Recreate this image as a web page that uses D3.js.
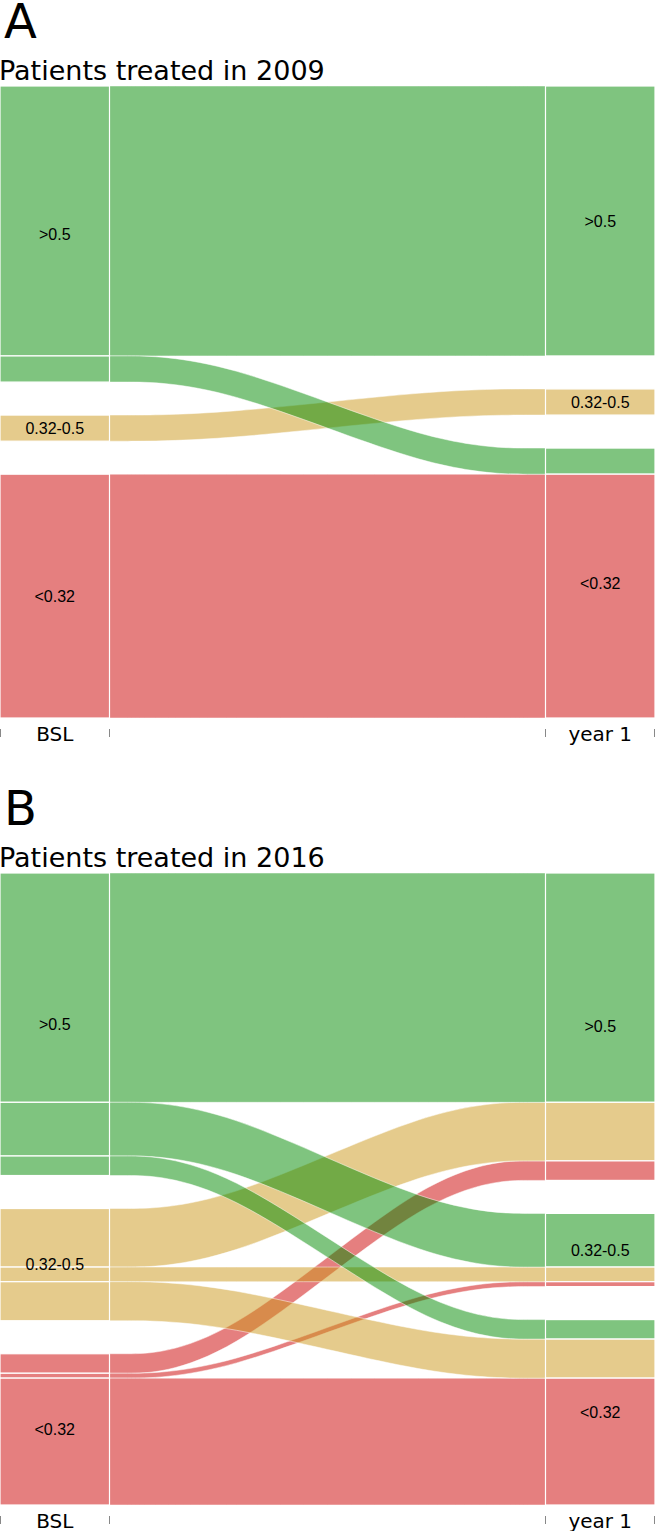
<!DOCTYPE html>
<html>
<head>
<meta charset="utf-8">
<script src="https://cdn.jsdelivr.net/npm/d3@7"></script>
<style>
  body { margin: 0; background: #fff; }
  text { fill: #000; }
</style>
</head>
<body>
<svg id="chart" width="655" height="1531"></svg>
<script>
const categories = [">0.5", "0.32-0.5", "<0.32"];
const axes = ["BSL", "year 1"];
// patient counts: row = category at BSL, column = category at year 1
const flows2009 = [[31, 0, 3], [0, 3, 0], [0, 0, 28]];
const flows2016 = [[47, 11, 4], [12, 3, 8], [4, 1, 26]];

const panels = [
    { letter: "A", title: "Patients treated in 2009", flows: flows2009, top: 86 },
    { letter: "B", title: "Patients treated in 2016", flows: flows2016, top: 873 }
];

const colors = d3.scaleOrdinal()
    .domain(categories)
    .range(["#008a00", "#cc9819", "#cc0000"]);

const WIDTH = 655;
const HEIGHT = 632;
const GAP = 33;
const STRATUM_W = 109.5;

const svg = d3.select("#chart");

function alluvialRenderer(parent, { flows, top }) {
    const group = parent.append("g")
        .attr("transform", `translate(0,${ top })`);

    const total = d3.sum(flows.flat());
    const y = d3.scaleLinear()
        .domain([0, total])
        .range([0, HEIGHT - GAP * (categories.length - 1)]);
    const x = d3.scalePoint()
        .domain(axes)
        .range([STRATUM_W / 2, WIDTH - STRATUM_W / 2]);

    const outTotals = flows.map(row => d3.sum(row));
    const inTotals = categories.map((c, j) => d3.sum(flows, row => row[j]));

    const stratumStart = (totals, k) => y(d3.sum(totals.slice(0, k))) + GAP * k;

    // lodes: one per non-empty (from, to) pair
    const lodes = [];
    categories.forEach((from, i) => {
        categories.forEach((to, j) => {
            const n = flows[i][j];
            if (!n) return;
            const y0 = stratumStart(outTotals, i) + y(d3.sum(flows[i].slice(0, j)));
            const y1 = stratumStart(inTotals, j) + y(d3.sum(flows.slice(0, i), row => row[j]));
            lodes.push({ i, j, n, y0, y1, h: y(n) });
        });
    });

    const half = STRATUM_W / 2;
    const xa = x(axes[0]) + half;
    const xb = x(axes[1]) - half;
    const knot = (xb - xa) / 4;

    const area = d3.area()
        .x(d => d.x)
        .y0(d => d.t)
        .y1(d => d.b)
        .curve(d3.curveBasis);

    // flows drawn last category first so greens sit on top
    group.append("g")
        .attr("class", "flows")
        .selectAll("path")
        .data(lodes.slice().sort((a, b) => b.i - a.i))
        .join("path")
        .attr("d", d => area([
            { x: xa, t: d.y0, b: d.y0 + d.h },
            { x: xa + knot, t: d.y0, b: d.y0 + d.h },
            { x: xb - knot, t: d.y1, b: d.y1 + d.h },
            { x: xb, t: d.y1, b: d.y1 + d.h }
        ]))
        .attr("fill", d => colors(categories[d.i]))
        .attr("fill-opacity", 0.5)
        .attr("stroke", "#fff")
        .attr("stroke-opacity", 0.7)
        .attr("stroke-width", 0.7);

    // lode boxes on both axes
    const boxes = group.append("g").attr("class", "lodes");
    boxes.selectAll("rect.bsl")
        .data(lodes)
        .join("rect")
        .attr("class", "bsl")
        .attr("x", x(axes[0]) - half)
        .attr("y", d => d.y0)
        .attr("width", STRATUM_W)
        .attr("height", d => d.h)
        .attr("fill", d => colors(categories[d.i]))
        .attr("fill-opacity", 0.5)
        .attr("stroke", "#fff")
        .attr("stroke-width", 1.2);
    boxes.selectAll("rect.y1")
        .data(lodes)
        .join("rect")
        .attr("class", "y1")
        .attr("x", x(axes[1]) - half)
        .attr("y", d => d.y1)
        .attr("width", STRATUM_W)
        .attr("height", d => d.h)
        .attr("fill", d => colors(categories[d.i]))
        .attr("fill-opacity", 0.5)
        .attr("stroke", "#fff")
        .attr("stroke-width", 1.2);

    // stratum labels
    const labels = group.append("g")
        .attr("font-family", "Liberation Sans, Arial, sans-serif")
        .attr("font-size", 16)
        .attr("text-anchor", "middle");
    [outTotals, inTotals].forEach((totals, a) => {
        categories.forEach((c, k) => {
            if (!totals[k]) return;
            const s = stratumStart(totals, k);
            labels.append("text")
                .attr("x", x(axes[a]))
                .attr("y", s + y(totals[k]) / 2)
                .attr("dy", "0.35em")
                .text(c);
        });
    });

    // axis along the bottom
    const axis = group.append("g")
        .attr("transform", `translate(0,${ HEIGHT })`);
    const edges = axes.flatMap(a => [x(a) - half, x(a) + half]);
    axis.selectAll("line")
        .data(edges)
        .join("line")
        .attr("x1", d => Math.min(Math.max(d, 0.5), WIDTH - 0.5))
        .attr("x2", d => Math.min(Math.max(d, 0.5), WIDTH - 0.5))
        .attr("y1", 11)
        .attr("y2", 19)
        .attr("stroke", "#888")
        .attr("stroke-width", 1);
    axis.selectAll("text")
        .data(axes)
        .join("text")
        .attr("x", d => x(d))
        .attr("y", 23)
        .attr("text-anchor", "middle")
        .attr("font-family", "DejaVu Sans, sans-serif")
        .attr("font-size", 20)
        .text(d => d);

    return group;
}

panels.forEach(p => {
    svg.append("text")
        .attr("x", 4)
        .attr("y", p.top - 48)
        .attr("font-family", "DejaVu Sans, sans-serif")
        .attr("font-size", 48)
        .text(p.letter);
    svg.append("text")
        .attr("x", -1)
        .attr("y", p.top - 6)
        .attr("font-family", "DejaVu Sans, sans-serif")
        .attr("font-size", 27)
        .text(p.title);
    alluvialRenderer(svg, p);
});
</script>
</body>
</html>
